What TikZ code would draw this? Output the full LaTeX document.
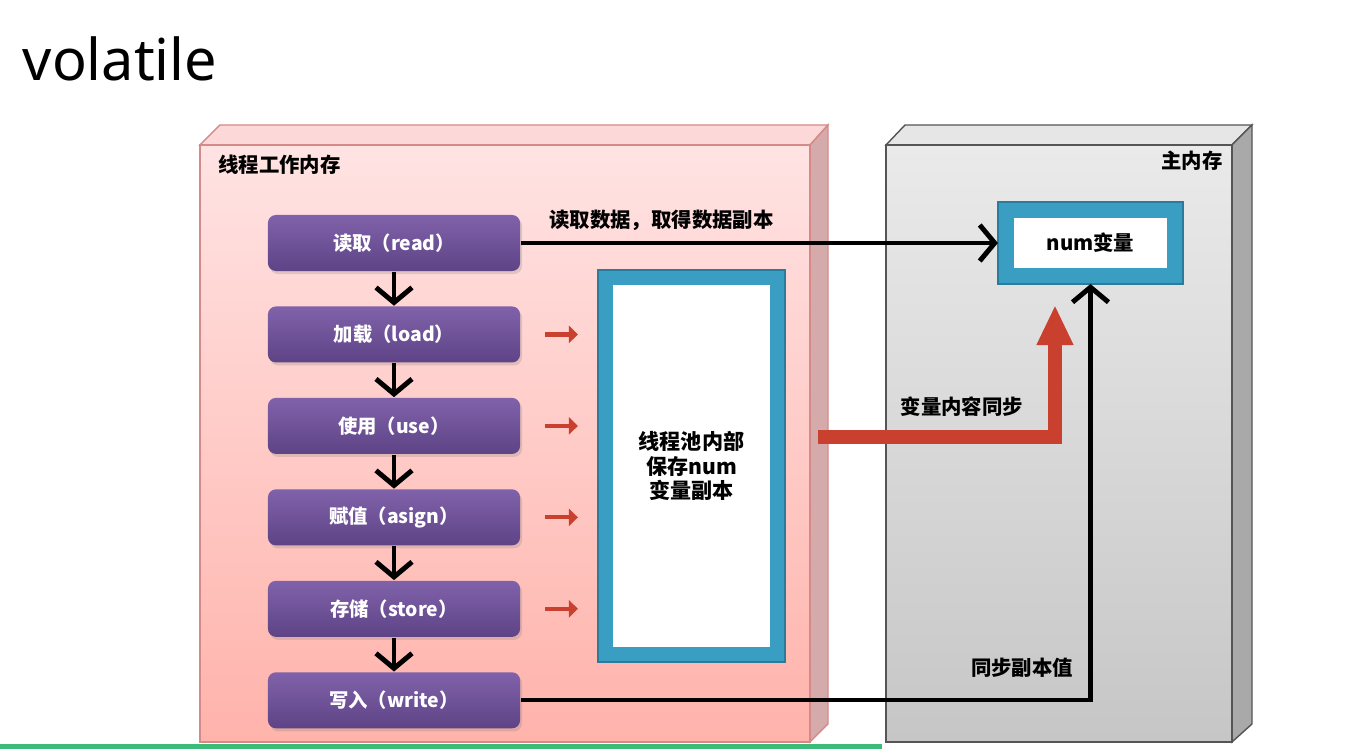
\documentclass[tikz,border=0pt]{standalone}
\usepackage{fontspec}
\setmainfont{Noto Sans}
\newfontfamily\cjk{Noto Sans CJK SC}
\usetikzlibrary{arrows.meta,positioning,shadows}

\definecolor{pinktop}{HTML}{FFE3E3}
\definecolor{pinkbot}{HTML}{FFB3AB}
\definecolor{pinkedge}{HTML}{D58A8A}
\definecolor{pinkside}{HTML}{D5AAAA}
\definecolor{pinkface}{HTML}{FDD8D8}
\definecolor{graytop}{HTML}{EAEAEA}
\definecolor{graybot}{HTML}{C6C6C6}
\definecolor{grayedge}{HTML}{555555}
\definecolor{grayside}{HTML}{A9A9A9}
\definecolor{grayface}{HTML}{E6E6E6}
\definecolor{btntop}{HTML}{8062AA}
\definecolor{btnbot}{HTML}{5E4386}
\definecolor{tealc}{HTML}{3A9EC2}
\definecolor{tealdark}{HTML}{2B7C9C}
\definecolor{redc}{HTML}{C9402F}
\definecolor{greenbar}{HTML}{3DBB78}

\begin{document}
\begin{tikzpicture}[
  x=0.01cm, y=-0.01cm,
  node distance=0.34cm,
  btn/.style={rounded corners=0.08cm, minimum width=2.52cm, minimum height=0.56cm,
    top color=btntop, bottom color=btnbot, text=white,
    font=\cjk\bfseries\fontsize{5.5}{6}\selectfont,
    drop shadow={opacity=0.25, shadow xshift=0.02cm, shadow yshift=-0.03cm}},
  pool/.style={draw=tealc, line width=0.15cm, fill=white, minimum width=1.72cm,
    minimum height=3.77cm, align=center, font=\cjk\bfseries\fontsize{6}{7}\selectfont},
  numbox/.style={draw=tealc, line width=0.16cm, fill=white, minimum width=1.69cm,
    minimum height=0.66cm, font=\cjk\bfseries\fontsize{5.8}{7}\selectfont},
  lbl/.style={font=\cjk\bfseries\fontsize{5.8}{7}\selectfont, inner sep=1pt},
  arrow/.style={-{Straight Barb[length=1.5mm, width=3.6mm, line width=1.4pt]}, line width=1.2pt},
  redarrow/.style={-{Triangle[length=0.9mm, width=1.7mm]}, line width=1.2pt, redc,
    shorten <=0.24cm, shorten >=0.2cm},
  syncarrow/.style={-{Triangle[length=0.4cm, width=0.34cm]}, line width=0.14cm, redc}
]
\useasboundingbox (0,0) rectangle (1362,749);

% thread working memory
\path[draw=pinkedge, fill=pinkface] (200,145) -- (220,125) -- (828,125) -- (810,145) -- cycle;
\path[draw=pinkedge, fill=pinkside] (810,145) -- (828,125) -- (828,724) -- (810,742) -- cycle;
\path[draw=pinkedge, top color=pinktop, bottom color=pinkbot] (200,145) rectangle (810,742);

% main memory
\path[draw=grayedge, fill=grayface] (886,145) -- (905,125) -- (1252,125) -- (1232,145) -- cycle;
\path[draw=grayedge, fill=grayside] (1232,145) -- (1252,125) -- (1252,724) -- (1232,742) -- cycle;
\path[draw=grayedge, top color=graytop, bottom color=graybot] (886,145) rectangle (1232,742);

\fill[greenbar] (0,744) rectangle (882,749);

\node[anchor=base west, inner sep=0, font=\fontsize{16.4}{20}\selectfont] (title) at (22,81) {volatile};
\node[lbl, anchor=west] (twm) at (214,165) {线程工作内存};
\node[lbl, anchor=east] (mainmem) at (1227,161) {主内存};

% steps
\node[btn] (read) at (394,243) {读取（read）};
\node[btn, below=of read] (load) {加载（load）};
\node[btn, below=of load] (use) {使用（use）};
\node[btn, below=of use] (asign) {赋值（asign）};
\node[btn, below=of asign] (store) {存储（store）};
\node[btn, below=of store] (write) {写入（write）};

\node[pool] (pool) at (691.5,466) {线程池内部\\保存num\\变量副本};
\draw[tealdark, line width=0.5pt] (pool.north west) rectangle (pool.south east);
\node[numbox] (num) at (1090.5,243) {num变量};
\draw[tealdark, line width=0.5pt] (num.north west) rectangle (num.south east);

\foreach \a/\b in {read/load, load/use, use/asign, asign/store, store/write}
  \draw[arrow] (\a) -- (\b);
\foreach \s in {load, use, asign, store}
  \draw[redarrow] (\s.east) -- (\s.east -| pool.west);

\draw[arrow] (read) -- node[lbl, above=2pt, pos=0.295] (readlbl) {读取数据，取得数据副本} (num);
\draw[arrow] (write) -| (num);
\node[lbl] (synclbl) at (1022,668) {同步副本值};

\coordinate (synctip) at (1055,305);
\draw[syncarrow] ([xshift=0.33cm, yshift=0.29cm]pool.east) -| (synctip);
\node[lbl] (copylbl) at (962,407) {变量内容同步};
\end{tikzpicture}
\end{document}
